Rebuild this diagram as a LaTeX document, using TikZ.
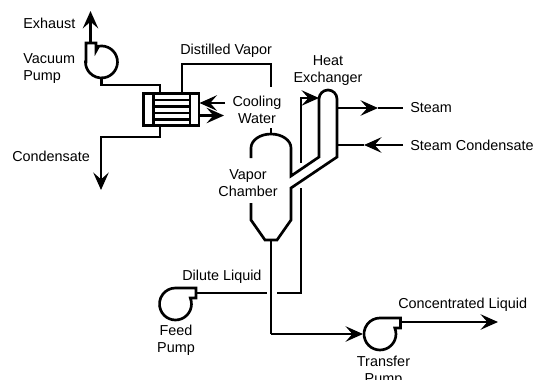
\documentclass[tikz,border=0pt]{standalone}
\usepackage{fontspec}
\setmainfont{Liberation Sans}
\usetikzlibrary{arrows.meta}

\tikzset{
    pipe/.style={line width=2pt, line join=miter},
    flow/.style={pipe, -{Stealth[length=13pt, width=11.5pt, inset=5pt]}},
    tag/.style={font=\fontsize{10.8}{12.75}\selectfont, inner sep=0pt, align=center}
}

\begin{document}
\begin{tikzpicture}[x=0.75pt, y=-0.75pt]
        \useasboundingbox (0,0) rectangle (541,379);

        % Condenser
        \draw[pipe] (143.5,93.5) rectangle (199,125.5);
        \draw[pipe] (153.5,93.5) -- (153.5,125.5);
        \draw[pipe] (190,93.5) -- (190,125.5);
        \foreach \y in {100,106.5,113,119.5} {
            \draw[pipe] (153.5,\y) -- (190,\y);
        }
        \coordinate (condvac) at (160,93);
        \coordinate (condvap) at (182,93);
        \coordinate (condout) at (160,125.5);
        \coordinate (cwin) at (199.5,103);
        \coordinate (cwout) at (199.5,115.5);

        % Vacuum pump
        \draw[pipe] (86,62) -- (86,43) -- (96,43) -- (96,51) -- (98.7,46.2)
            arc (-100:180:16) -- cycle;
        \coordinate (vacin) at (101.5,78);
        \coordinate (vacout) at (90.5,43);
        \coordinate (exhaust) at (90.5,11);

        % Vapor chamber
        \draw[pipe] (251,158) -- (251,148) arc (180:360:20 and 14) -- (291,176)
            -- (319,157) -- (319,99) arc (180:360:9) -- (337,157) -- (291,188)
            -- (291,220) -- (277,240) -- (265,240) -- (251,220) -- (251,203);
        \coordinate (chtop) at (271,134);
        \coordinate (chbot) at (271,240);

        % Feed pump
        \begin{scope}[shift={(175.5,304)}]
            \draw[pipe] (0,-16) -- (20.5,-16) -- (20.5,-6) -- (14.8,-6)
                arc (-22:270:16);
        \end{scope}

        % Transfer pump
        \begin{scope}[shift={(380,334)}]
            \draw[pipe] (0,-16) -- (20.5,-16) -- (20.5,-6) -- (14.8,-6)
                arc (-22:270:16);
        \end{scope}

        % Pipe points
        \coordinate (feedout) at (196,293);
        \coordinate (feedgap) at (267,293);
        \coordinate (retgap) at (277,293);
        \coordinate (retcorner) at (301,293);
        \coordinate (retup) at (301,188);
        \coordinate (hxup) at (301,163);
        \coordinate (hxcorner) at (301,98);
        \coordinate (hxin) at (319,98);
        \coordinate (botcorner) at (271,334);
        \coordinate (transin) at (363,334);
        \coordinate (transout) at (400,322);
        \coordinate (concout) at (498,322);
        \coordinate (steamin) at (337,108);
        \coordinate (steamtip) at (378,108);
        \coordinate (steamend) at (403,108);
        \coordinate (condenend) at (403,145);
        \coordinate (condentip) at (364,145);
        \coordinate (condenin) at (337,145);

        % Pipes
        \draw[flow] (vacout) -- (exhaust);
        \draw[pipe] (vacin) -- (101.5,85) -- (160,85) -- (condvac);
        \draw[flow] (condout) -- (160,137) -- (101,137) -- (101,190);
        \draw[pipe] (condvap) -- (182,64) -- (271,64) -- (271,87);
        \draw[pipe] (271,128) -- (chtop);
        \draw[flow] (225,103) -- (cwin);
        \draw[flow] (cwout) -- (224,115.5);
        \draw[pipe] (feedout) -- (feedgap);
        \draw[pipe] (retgap) -- (retcorner) -- (retup);
        \draw[flow] (hxup) -- (hxcorner) -- (hxin);
        \draw[pipe] (chbot) -- (botcorner);
        \draw[flow] (botcorner) -- (transin);
        \draw[flow] (transout) -- (concout);
        \draw[flow] (steamin) -- (steamtip);
        \draw[pipe] (steamtip) -- (steamend);
        \draw[flow] (condenend) -- (condentip);
        \draw[pipe] (condentip) -- (condenin);

        % Text elements
        \node[tag, anchor=west] (exhausttxt) at (23,23.5) {Exhaust};
        \node[tag, align=left, anchor=west] (vacpumptxt) at (23,69) {Vacuum\\Pump};
        \node[tag, anchor=west] (condensatetxt) at (12,156) {Condensate};
        \node[tag, anchor=west] (distilledtxt) at (180,51) {Distilled Vapor};
        \node[tag] (coolingtxt) at (257,110) {Cooling\\Water};
        \node[tag] (heattxt) at (328,71) {Heat\\Exchanger};
        \node[tag] (chambertxt) at (248,183.5) {Vapor\\Chamber};
        \node[tag, anchor=west] (steamtxt) at (410,108) {Steam};
        \node[tag, anchor=west] (steamcondtxt) at (410,145) {Steam Condensate};
        \node[tag, anchor=west] (dilutetxt) at (182,277) {Dilute Liquid};
        \node[tag] (feedtxt) at (176,340.5) {Feed\\Pump};
        \node[tag] (transfertxt) at (383.5,371.5) {Transfer\\Pump};
        \node[tag, anchor=west] (concentratedtxt) at (398,305) {Concentrated Liquid};

    \end{tikzpicture}
\end{document}
